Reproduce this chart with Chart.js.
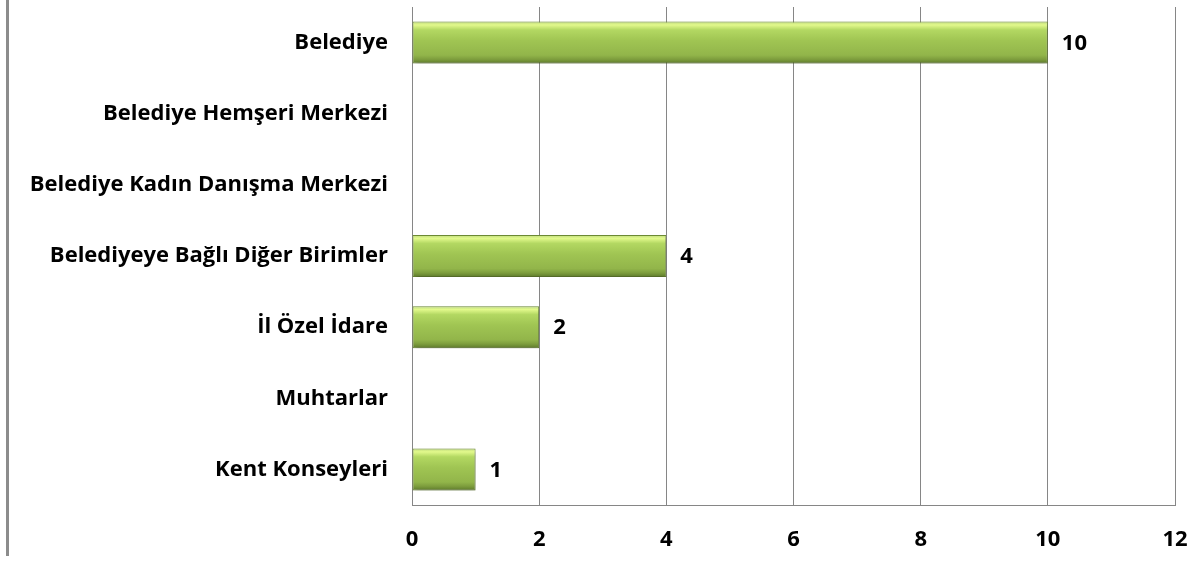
<!DOCTYPE html>
<html>
<head>
<meta charset="utf-8">
<script src="https://cdn.jsdelivr.net/npm/chart.js@4/dist/chart.umd.min.js"></script>
<style>
  body { margin: 0; background: #fff; }
  #wrap { width: 1196px; height: 566px; position: relative; }
</style>
</head>
<body>
<div id="wrap"><canvas id="chart" width="1196" height="566"></canvas></div>
<script>
// Categories and values
var categories = [
  "Belediye",
  "Belediye Hemşeri Merkezi",
  "Belediye Kadın Danışma Merkezi",
  "Belediyeye Bağlı Diğer Birimler",
  "İl Özel İdare",
  "Muhtarlar",
  "Kent Konseyleri"
];
var values = [10, 0, 0, 4, 2, 0, 1];
var xTicks = [0, 2, 4, 6, 8, 10, 12];

var FONT = "'Open Sans', Lato, sans-serif";

// Vertical green gradient per bar, like the bevelled office bars
function barGradient(context) {
  var chart = context.chart;
  var y = chart.scales.y;
  if (!y || context.dataIndex === undefined) return "#9bbb59";
  var center = y.getPixelForValue(context.dataIndex);
  var half = (y.height / categories.length) * 0.59 / 2;
  if (!isFinite(center) || !isFinite(half) || half <= 0) return "#9bbb59";
  var g = chart.ctx.createLinearGradient(0, center - half, 0, center + half);
  g.addColorStop(0, "#bcd97c");
  g.addColorStop(0.08, "#e2f98c");
  g.addColorStop(0.2, "#b3d862");
  g.addColorStop(0.45, "#a0c553");
  g.addColorStop(0.8, "#92b54a");
  g.addColorStop(0.9, "#7d9d3d");
  g.addColorStop(1, "#5d792b");
  return g;
}

// Left frame line, bar shadow and value labels
var extras = {
  id: "extras",
  beforeDraw: function (chart) {
    var ctx = chart.ctx;
    ctx.save();
    ctx.fillStyle = "#8c8c8c";
    ctx.fillRect(6, 0, 3, 556);
    ctx.restore();
  },
  beforeDatasetDraw: function (chart) {
    var ctx = chart.ctx;
    ctx.save();
    ctx.shadowColor = "rgba(0,0,0,0.3)";
    ctx.shadowOffsetY = 3;
    ctx.shadowOffsetX = 1;
    ctx.shadowBlur = 5;
  },
  afterDatasetDraw: function (chart) {
    chart.ctx.restore();
  },
  afterDatasetsDraw: function (chart) {
    var ctx = chart.ctx;
    var meta = chart.getDatasetMeta(0);
    ctx.save();
    ctx.font = "bold 22px " + FONT;
    ctx.fillStyle = "#000";
    ctx.textAlign = "left";
    ctx.textBaseline = "middle";
    meta.data.forEach(function (bar, i) {
      if (!values[i]) return;
      ctx.fillText(String(values[i]), bar.x + 14, bar.y + 1);
    });
    ctx.restore();
  }
};

new Chart(document.getElementById("chart"), {
  type: "bar",
  data: {
    labels: categories,
    datasets: [{
      data: values,
      backgroundColor: barGradient,
      borderColor: "#6f8c35",
      borderWidth: 1,
      borderSkipped: false,
      categoryPercentage: 1,
      barPercentage: 0.59
    }]
  },
  options: {
    indexAxis: "y",
    responsive: false,
    animation: false,
    devicePixelRatio: 1,
    layout: { padding: { top: 7, right: 21, bottom: 0, left: 0 } },
    plugins: { legend: { display: false }, tooltip: { enabled: false } },
    scales: {
      x: {
        min: 0,
        max: 12,
        afterBuildTicks: function (scale) {
          scale.ticks = xTicks.map(function (v) { return { value: v }; });
        },
        grid: { color: "#868686", lineWidth: 1, drawTicks: false },
        border: { color: "#868686", width: 1 },
        ticks: {
          padding: 22,
          color: "#000",
          font: { family: FONT, size: 22, weight: "bold" }
        },
        afterFit: function (scale) {
          scale.height = 61;
          scale.paddingLeft = 0;
          scale.paddingRight = 0;
        }
      },
      y: {
        grid: { display: false, drawTicks: false },
        border: { color: "#868686", width: 1 },
        ticks: {
          padding: 24,
          color: "#000",
          font: { family: FONT, size: 22, weight: "bold" }
        },
        afterFit: function (scale) {
          scale.width = 412;
          scale.paddingTop = 0;
          scale.paddingBottom = 0;
        }
      }
    }
  },
  plugins: [extras]
});
</script>
</body>
</html>
